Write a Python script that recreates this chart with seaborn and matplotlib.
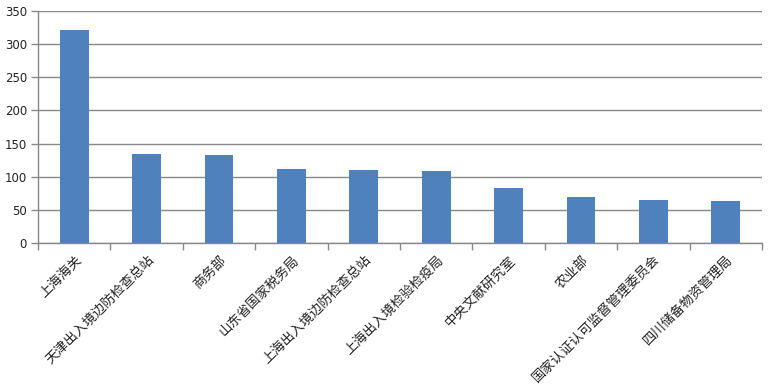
import matplotlib
matplotlib.use("Agg")
import matplotlib.pyplot as plt
import seaborn as sns
import pandas as pd
from matplotlib.ticker import FixedLocator

categories = ["上海海关", "天津出入境边防检查总站", "商务部", "山东省国家税务局", "上海出入境边防检查总站",
              "上海出入境检验检疫局", "中央文献研究室", "农业部", "国家认证认可监督管理委员会", "四川储备物资管理局"]
values = [321, 134, 133, 112, 110, 109, 83, 69, 65, 63]
yticks = [0, 50, 100, 150, 200, 250, 300, 350]

sns.set_theme(style="white")
plt.rcParams['font.family'] = ['Noto Sans CJK SC', 'DejaVu Sans']

df = pd.DataFrame({"cat": categories, "val": values})

fig = plt.figure(figsize=(7.72, 3.87), dpi=100)
ax = fig.add_axes([38/772, 1-243/387, (762-38)/772, (243-11)/387])
sns.barplot(data=df, x="cat", y="val", color="#4F81BD", width=0.4, saturation=1, ax=ax,
            zorder=3, edgecolor="none", linewidth=0)

ax.set_ylim(0, 350)
ax.set_xlim(-0.5, len(categories)-0.5)
ax.set_yticks(yticks)
ax.set_yticklabels([str(t) for t in yticks], fontsize=8.5, family='DejaVu Sans', color='#222222')
ax.yaxis.grid(True, color='#888888', linewidth=1, zorder=0)
ax.set_axisbelow(True)
ax.set_xlabel("")
ax.set_ylabel("")

ax.set_xticks(range(len(categories)))
ax.set_xticklabels(categories, rotation=45, ha='right', rotation_mode='anchor', fontsize=9.6, color='#222222')
ax.tick_params(axis='x', which='major', length=0, pad=7)
ax.xaxis.set_minor_locator(FixedLocator([i - 0.5 for i in range(len(categories)+1)]))
ax.tick_params(axis='x', which='minor', length=5, color='#888888', width=1, direction='out', bottom=True)
ax.tick_params(axis='y', length=5, color='#888888', width=1, direction='out', left=True, pad=3)

for s in ['top', 'right']:
    ax.spines[s].set_visible(False)
for s in ['left', 'bottom']:
    ax.spines[s].set_color('#888888')
    ax.spines[s].set_linewidth(1)

fig.savefig("out.png", dpi=100)
